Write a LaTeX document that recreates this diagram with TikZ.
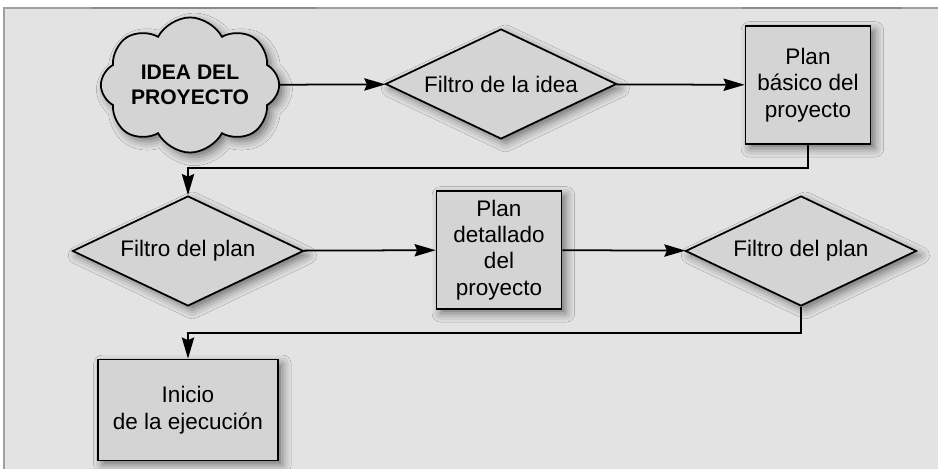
\documentclass[tikz,border=0pt]{standalone}
\usepackage{fontspec}
\setmainfont{Liberation Sans}
\usetikzlibrary{arrows.meta, shapes.geometric, shapes.symbols, shadows.blur}
\definecolor{panel-grey}{RGB}{227,227,227}
\definecolor{node-grey}{RGB}{212,212,212}
\definecolor{frame-grey}{RGB}{160,160,160}
\definecolor{frame-dark}{RGB}{140,140,140}

\begin{document}
\begin{tikzpicture}[
  >={Stealth[length=12pt, width=7pt, inset=1.5pt]},
  softshadow/.style={blur shadow={shadow xshift=2.5pt, shadow yshift=-2.5pt,
                     shadow blur radius=5pt, shadow opacity=50}},
  block/.style={draw, line width=1pt, fill=node-grey, softshadow, align=center,
                inner sep=0pt, font=\fontsize{12.8}{15}\selectfont},
  box/.style={block, rectangle, minimum width=2.5cm, minimum height=2.36cm},
  filter/.style={block, diamond, aspect=2.1, minimum width=4.62cm, minimum height=2.2cm},
  idea/.style={block, cloud, cloud puffs=8, cloud puff arc=125, aspect=1.6,
               minimum width=3.5cm, minimum height=2.2cm,
               font=\fontsize{12}{14.5}\selectfont\bfseries},
  arrow/.style={->, line width=1pt},
]
\useasboundingbox (0,0) rectangle (18.76,-9.38);
\fill[panel-grey] (0.06,-0.16) rectangle (18.76,-9.38);
\draw[frame-grey, line width=1pt] (0.08,-9.38) -- (0.08,-0.16) -- (18.76,-0.16);
\draw[frame-dark, line width=1.6pt] (1.82,-0.16) -- (6.34,-0.16);
\draw[frame-dark, line width=1.6pt] (14.84,-0.16) -- (18.04,-0.16);

\node[idea]   (idea) at (3.80,-1.70)  {IDEA DEL\\PROYECTO};
\node[filter] (f1)   at (10.02,-1.68) {Filtro de la idea};
\node[box]    (pb)   at (16.16,-1.70) {Plan\\básico del\\proyecto};
\node[filter] (f2)   at (3.76,-5.02)  {Filtro del plan};
\node[box]    (pd)   at (9.98,-5.00)  {Plan\\detallado\\del\\proyecto};
\node[filter] (f3)   at (16.02,-5.02) {Filtro del plan};
\node[box, minimum width=3.6cm, minimum height=2.02cm]
              (ie)   at (3.76,-8.20)  {Inicio\\de la ejecución};

\foreach \a/\b in {idea/f1, f1/pb, f2/pd, pd/f3}
  \draw[arrow] (\a) -- (\b);
\draw[arrow] (pb.south) -- ++(0,-0.46) -| (f2.north);
\draw[arrow] (f3.south) -- ++(0,-0.52) -| (ie.north);
\end{tikzpicture}
\end{document}
